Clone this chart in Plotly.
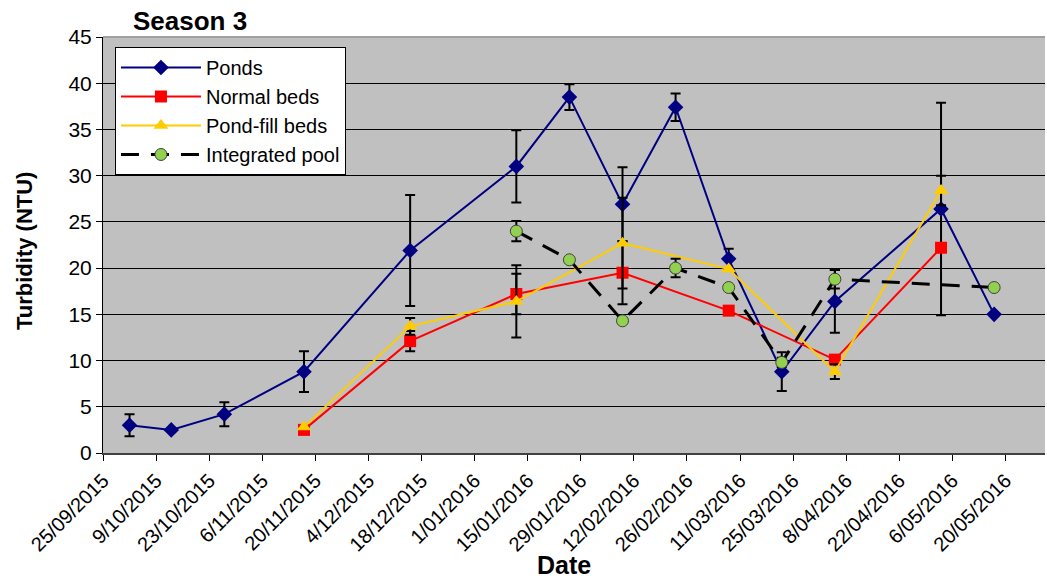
import plotly.graph_objects as go
import pandas as pd

# ---------------- data ----------------
ponds_dates = ["2015-10-02", "2015-10-13", "2015-10-27", "2015-11-17", "2015-12-15",
               "2016-01-12", "2016-01-26", "2016-02-09", "2016-02-23", "2016-03-08",
               "2016-03-22", "2016-04-05", "2016-05-03", "2016-05-17"]
ponds_vals = [3.0, 2.5, 4.2, 8.8, 21.9, 31.0, 38.5, 26.9, 37.4, 21.0, 8.8, 16.4, 26.4, 15.0]
ponds_err = [1.2, 0, 1.3, 2.2, 6.0, 3.9, 1.4, 4.0, 1.5, 1.1, 2.1, 3.4, 11.5, 0]

normal_dates = ["2015-11-17", "2015-12-15", "2016-01-12", "2016-02-09", "2016-03-08",
                "2016-04-05", "2016-05-03"]
normal_vals = [2.5, 12.1, 17.2, 19.5, 15.4, 10.1, 22.2]
normal_err = [0, 1.1, 2.2, 3.4, 0, 0, 0]

pondfill_dates = ["2015-11-17", "2015-12-15", "2016-01-12", "2016-02-09", "2016-03-08",
                  "2016-04-05", "2016-05-03"]
pondfill_vals = [2.8, 13.7, 16.4, 22.7, 19.9, 8.8, 28.4]
pondfill_err = [0, 0.9, 3.9, 4.9, 0, 0.8, 1.6]

pool_dates = ["2016-01-12", "2016-01-26", "2016-02-09", "2016-02-23", "2016-03-08",
              "2016-03-22", "2016-04-05", "2016-05-17"]
pool_vals = [24.0, 20.9, 14.3, 20.0, 17.9, 9.8, 18.8, 17.9]
pool_err = [1.1, 0, 0, 1.0, 0, 0.5, 1.0, 0]

tick_labels = ["25/09/2015", "9/10/2015", "23/10/2015", "6/11/2015", "20/11/2015",
               "4/12/2015", "18/12/2015", "1/01/2016", "15/01/2016", "29/01/2016",
               "12/02/2016", "26/02/2016", "11/03/2016", "25/03/2016", "8/04/2016",
               "22/04/2016", "6/05/2016", "20/05/2016"]
tick_vals = [pd.to_datetime(t, dayfirst=True).strftime("%Y-%m-%d") for t in tick_labels]

FONT = "Liberation Sans, Arial, sans-serif"

fig = go.Figure()


def err(arr):
    return dict(type="data", array=arr, visible=True, color="black", thickness=2, width=5)


fig.add_trace(go.Scatter(
    x=ponds_dates, y=ponds_vals, name="Ponds", mode="lines+markers",
    line=dict(color="#000080", width=2),
    marker=dict(symbol="diamond", size=12, color="#000080"),
    error_y=err(ponds_err), legendgroup="a"))
fig.add_trace(go.Scatter(
    x=normal_dates, y=normal_vals, name="Normal beds", mode="lines+markers",
    line=dict(color="#FF0000", width=2),
    marker=dict(symbol="square", size=12, color="#FF0000"),
    error_y=err(normal_err), legendgroup="b"))
fig.add_trace(go.Scatter(
    x=pondfill_dates, y=pondfill_vals, name="Pond-fill beds", mode="lines+markers",
    line=dict(color="#FFCC00", width=2),
    marker=dict(symbol="triangle-up", size=13, color="#FFCC00"),
    error_y=err(pondfill_err), legendgroup="c"))
fig.add_trace(go.Scatter(
    x=pool_dates, y=pool_vals, name="Integrated pool", mode="lines+markers",
    line=dict(color="black", width=3, dash="18px,12px"),
    marker=dict(symbol="circle", size=12, color="#92D050",
                line=dict(color="#404040", width=1)),
    error_y=err(pool_err), legendgroup="d"))

fig.update_layout(
    width=1047, height=578,
    margin=dict(l=103, r=2, t=37, b=125),
    paper_bgcolor="white",
    plot_bgcolor="#C0C0C0",
    font=dict(family=FONT, color="black"),
    title=dict(text="<b>Season 3</b>", font=dict(size=26, family=FONT, color="black"),
               x=133 / 1047, xanchor="left", xref="container",
               y=1 - 21 / 578, yanchor="middle", yref="container"),
    showlegend=True,
    legend=dict(x=0.0127, y=0.976, xanchor="left", yanchor="top",
                bgcolor="white", bordercolor="black", borderwidth=1,
                font=dict(size=20, family=FONT), traceorder="grouped",
                tracegroupgap=0, itemwidth=80),
    xaxis=dict(
        type="date",
        range=["2015-09-25", "2016-05-30 10:00"],
        tickmode="array", tickvals=tick_vals, ticktext=tick_labels,
        tickangle=-45, tickfont=dict(size=20, family=FONT),
        ticks="outside", ticklen=6, tickcolor="black",
        showgrid=False, zeroline=False,
        showline=True, linecolor="#404040", linewidth=2,
        automargin=False,
    ),
    yaxis=dict(
        range=[0, 45], tickmode="linear", tick0=0, dtick=5,
        tickfont=dict(size=21, family=FONT),
        ticks="outside", ticklen=6, tickcolor="black",
        showgrid=True, gridcolor="black", gridwidth=1,
        zeroline=False, showline=True, linecolor="black", linewidth=1,
        automargin=False,
    ),
    annotations=[
        dict(text="<b>Date</b>", xref="paper", yref="paper",
             x=(564 - 103) / 942, y=-(565 - 453) / 416,
             xanchor="center", yanchor="middle", showarrow=False,
             font=dict(size=25, family=FONT, color="black")),
        dict(text="<b>Turbidity (NTU)</b>", xref="paper", yref="paper",
             x=(25 - 103) / 942, y=(453 - 251) / 416, textangle=-90,
             xanchor="center", yanchor="middle", showarrow=False,
             font=dict(size=22, family=FONT, color="black")),
    ],
    shapes=[
        dict(type="line", xref="paper", yref="paper", x0=0, x1=1, y0=1, y1=1,
             line=dict(color="#A0A0A0", width=2), layer="above"),
    ],
)

fig.write_html("out.html",
               config={"displayModeBar": False},
               post_script="document.body.style.margin='0';document.body.style.padding='0';")
